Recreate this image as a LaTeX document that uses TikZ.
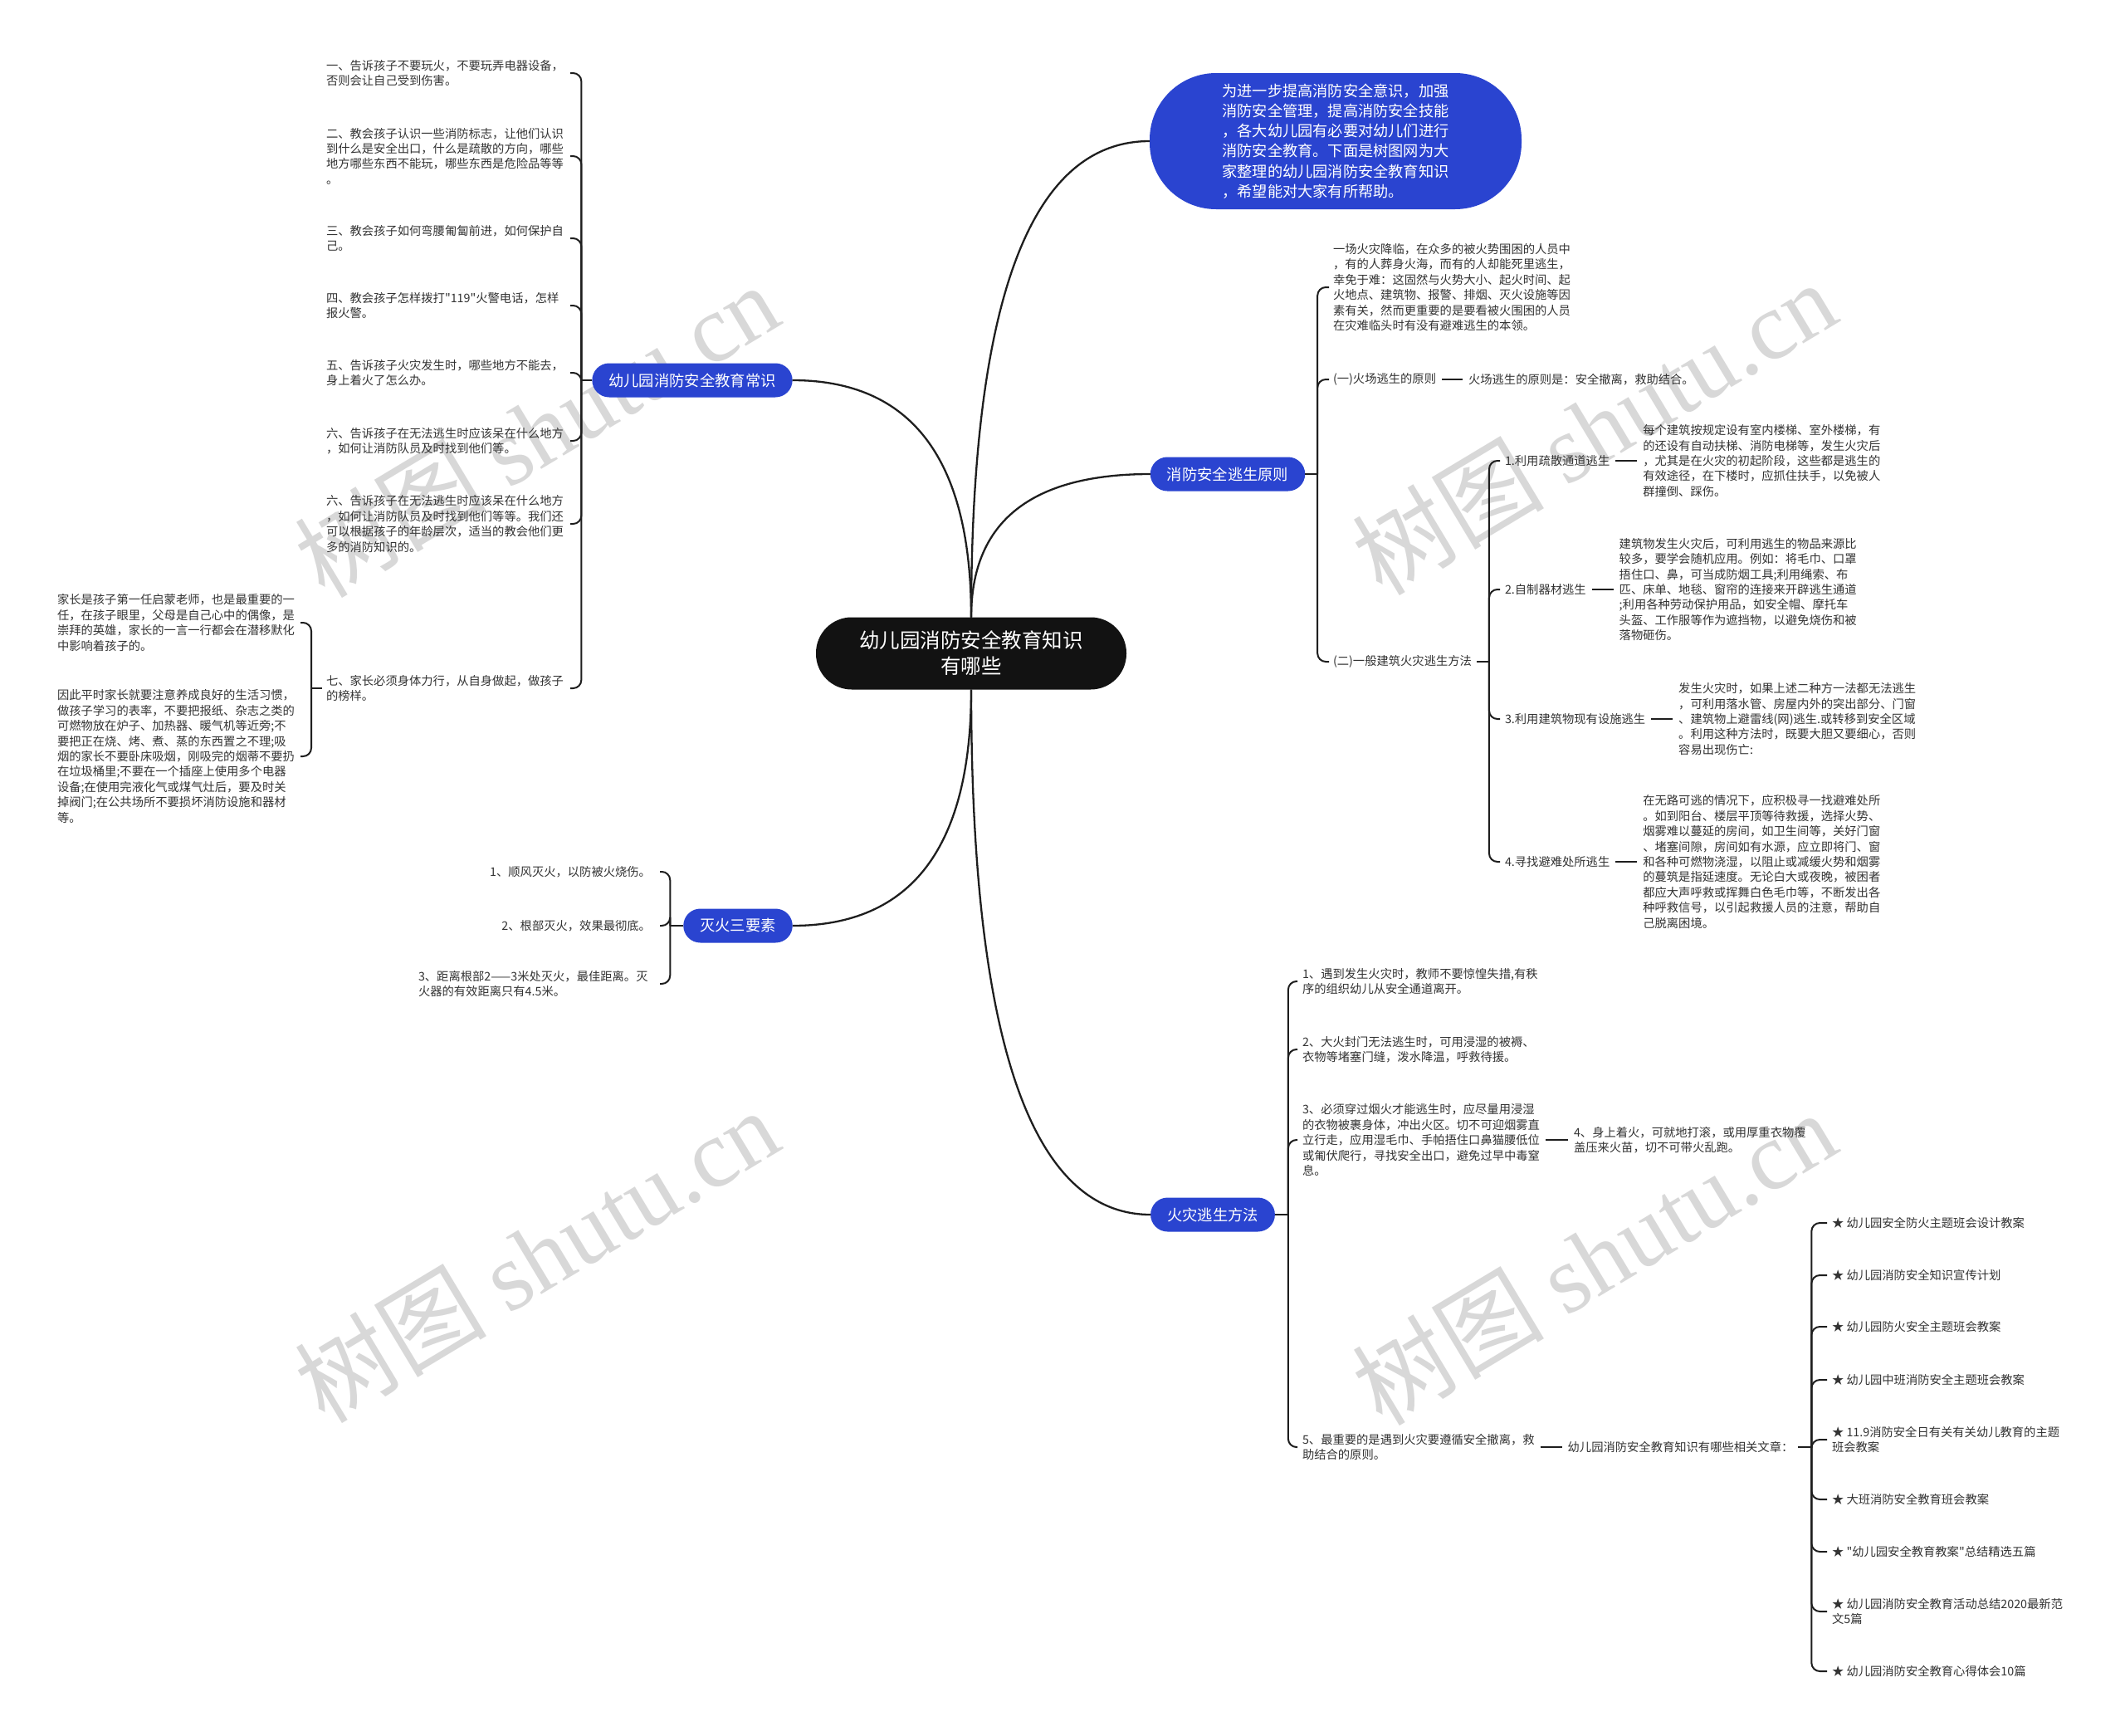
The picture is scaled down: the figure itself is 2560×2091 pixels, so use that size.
\documentclass[tikz,border=0pt]{standalone}
\usepackage{fontspec}
\newfontfamily\cjk{Noto Sans CJK SC}
\newfontfamily\wmserif{Liberation Serif}
\usetikzlibrary{calc}
\definecolor{nblue}{HTML}{2A44D0}
\definecolor{lnc}{HTML}{1E1E1E}
\definecolor{wmc}{HTML}{D8D8D8}
\definecolor{txc}{HTML}{333333}
\newcommand\smf{\cjk\fontsize{14.3pt}{18.4pt}\selectfont}
\begin{document}
\begin{tikzpicture}[x=1pt,y=-1pt,
  every node/.style={inner sep=0pt, outer sep=0pt, font=\cjk},
  txt/.style={font=\smf, align=left, text=txc},
  bnode/.style={fill=nblue, text=white, rounded corners=20.5pt, minimum height=41pt, inner xsep=20pt, font=\cjk\fontsize{18.3pt}{22pt}\selectfont},
  cnode/.style={fill={black!93}, text=white, rounded corners=43pt, minimum height=87pt, minimum width=374pt, align=center, font=\cjk\fontsize{24.5pt}{31pt}\selectfont},
  tnode/.style={fill=nblue, text=white, rounded corners=80pt, minimum height=164pt, minimum width=448pt, align=left, font=\cjk\fontsize{18.2pt}{24.3pt}\selectfont},
  mainln/.style={draw=lnc, line width=2.3pt},
  brk/.style={draw=lnc, line width=2pt, rounded corners=10pt},
  lnk/.style={draw=lnc, line width=2pt, shorten <=7pt, shorten >=7pt},
  wmk/.style={text=wmc, rotate=31, font=\cjk\fontsize{116pt}{116pt}\selectfont}
]
\fill[white] (0,0) rectangle (2560,2091);
\useasboundingbox (0,0) rectangle (2560,2091);

% watermarks
\node[wmk] (w1) at (646,518) {树图 {\wmserif shutu.cn}};
\node[wmk] (w2) at (1920,515) {树图 {\wmserif shutu.cn}};
\node[wmk] (w3) at (646,1512) {树图 {\wmserif shutu.cn}};
\node[wmk] (w4) at (1920,1515) {树图 {\wmserif shutu.cn}};

% main nodes
\node[cnode] (c) at (1170,787) {幼儿园消防安全教育知识\\有哪些};
\node[tnode] (tb) at (1609,170) {为进一步提高消防安全意识，加强\\消防安全管理，提高消防安全技能\\，各大幼儿园有必要对幼儿们进行\\消防安全教育。下面是树图网为大\\家整理的幼儿园消防安全教育知识\\，希望能对大家有所帮助。};
\node[bnode] (b1) at (834,458) {幼儿园消防安全教育常识};
\node[bnode] (b2) at (889,1115) {灭火三要素};
\node[bnode] (b3) at (1479,571) {消防安全逃生原则};
\node[bnode] (b4) at (1461,1463) {火灾逃生方法};

\coordinate (q1) at (c.north |- tb.west);
\coordinate (q2) at (c.north |- b1.east);
\coordinate (q3) at (c.north |- b3.west);
\coordinate (q4) at (c.south |- b2.east);
\coordinate (q5) at (c.south |- b4.west);
\draw[mainln] (c.north) .. controls ($(c.north)!0.667!(q1)$) and ($(tb.west)!0.667!(q1)$) .. (tb.west);
\draw[mainln] (c.north) .. controls ($(c.north)!0.667!(q2)$) and ($(b1.east)!0.667!(q2)$) .. (b1.east);
\draw[mainln] (c.north) .. controls ($(c.north)!0.667!(q3)$) and ($(b3.west)!0.667!(q3)$) .. (b3.west);
\draw[mainln] (c.south) .. controls ($(c.south)!0.667!(q4)$) and ($(b2.east)!0.667!(q4)$) .. (b2.east);
\draw[mainln] (c.south) .. controls ($(c.south)!0.667!(q5)$) and ($(b4.west)!0.667!(q5)$) .. (b4.west);

% ---- branch 1: 常识
\begin{scope}[every node/.append style={txt, anchor=west, text width=292pt}]
\node (a1) at (393,88) {一、告诉孩子不要玩火，不要玩弄电器设备，\\否则会让自己受到伤害。};
\node (a2) at (393,188) {二、教会孩子认识一些消防标志，让他们认识\\到什么是安全出口，什么是疏散的方向，哪些\\地方哪些东西不能玩，哪些东西是危险品等等\\。};
\node (a3) at (393,287) {三、教会孩子如何弯腰匍匐前进，如何保护自\\己。};
\node (a4) at (393,368) {四、教会孩子怎样拨打"119"火警电话，怎样\\报火警。};
\node (a5) at (393,449) {五、告诉孩子火灾发生时，哪些地方不能去，\\身上着火了怎么办。};
\node (a6) at (393,531) {六、告诉孩子在无法逃生时应该呆在什么地方\\，如何让消防队员及时找到他们等。};
\node (a7) at (393,631) {六、告诉孩子在无法逃生时应该呆在什么地方\\，如何让消防队员及时找到他们等等。我们还\\可以根据孩子的年龄层次，适当的教会他们更\\多的消防知识的。};
\node (a8) at (393,829) {七、家长必须身体力行，从自身做起，做孩子\\的榜样。};
\end{scope}
\coordinate (J1) at ($(b1.west)+(-13,0)$);
\draw[brk] (b1.west) -- (J1);
\foreach \n in {a1,a2,a3,a4,a5,a6,a7,a8} \draw[brk] (J1) |- ([xshift=2pt]\n.east);

\begin{scope}[every node/.append style={txt, anchor=west, text width=290pt}]
\node (p1) at (69,750) {家长是孩子第一任启蒙老师，也是最重要的一\\任，在孩子眼里，父母是自己心中的偶像，是\\崇拜的英雄，家长的一言一行都会在潜移默化\\中影响着孩子的。};
\node (p2) at (69,911) {因此平时家长就要注意养成良好的生活习惯，\\做孩子学习的表率，不要把报纸、杂志之类的\\可燃物放在炉子、加热器、暖气机等近旁;不\\要把正在烧、烤、煮、蒸的东西置之不理;吸\\烟的家长不要卧床吸烟，刚吸完的烟蒂不要扔\\在垃圾桶里;不要在一个插座上使用多个电器\\设备;在使用完液化气或煤气灶后，要及时关\\掉阀门;在公共场所不要损坏消防设施和器材\\等。};
\end{scope}
\coordinate (J2) at ($(a8.west)+(-18,0)$);
\draw[brk] ([xshift=-5pt]a8.west) -- (J2);
\draw[brk] (J2) |- ([xshift=3pt]p1.east);
\draw[brk] (J2) |- ([xshift=3pt]p2.east);

% ---- branch 2: 灭火三要素
\node[txt, anchor=east] (f1) at (784,1050) {1、顺风灭火，以防被火烧伤。};
\node[txt, anchor=east] (f2) at (784,1115) {2、根部灭火，效果最彻底。};
\node[txt, anchor=west, text width=285pt] (f3) at (504,1185) {3、距离根部2——3米处灭火，最佳距离。灭\\火器的有效距离只有4.5米。};
\coordinate (J3) at ($(b2.west)+(-16,0)$);
\draw[brk] (b2.west) -- (J3);
\draw[brk] (J3) |- ([xshift=11pt]f1.east);
\draw[brk] (J3) |- ([xshift=11pt]f2.east);
\draw[brk] (J3) |- ([xshift=6pt]f3.east);

% ---- branch 3: 消防安全逃生原则
\begin{scope}[every node/.append style={txt, anchor=west}]
\node (r1) at (1606,346) {一场火灾降临，在众多的被火势围困的人员中\\，有的人葬身火海，而有的人却能死里逃生，\\幸免于难：这固然与火势大小、起火时间、起\\火地点、建筑物、报警、排烟、灭火设施等因\\素有关，然而更重要的是要看被火围困的人员\\在灾难临头时有没有避难逃生的本领。};
\node (r2) at (1606,457) {(一)火场逃生的原则};
\node (r2a) at ([xshift=39pt]r2.east) {火场逃生的原则是：安全撤离，救助结合。};
\node (r3) at (1606,797) {(二)一般建筑火灾逃生方法};
\node (s1) at (1813,555) {1.利用疏散通道逃生};
\node (s1a) at ([xshift=40pt]s1.east) {每个建筑按规定设有室内楼梯、室外楼梯，有\\的还设有自动扶梯、消防电梯等，发生火灾后\\，尤其是在火灾的初起阶段，这些都是逃生的\\有效途径，在下楼时，应抓住扶手，以免被人\\群撞倒、踩伤。};
\node (s2) at (1813,710) {2.自制器材逃生};
\node (s2a) at ([xshift=40pt]s2.east) {建筑物发生火灾后，可利用逃生的物品来源比\\较多，要学会随机应用。例如：将毛巾、口罩\\捂住口、鼻，可当成防烟工具;利用绳索、布\\匹、床单、地毯、窗帘的连接来开辟逃生通道\\;利用各种劳动保护用品，如安全帽、摩托车\\头盔、工作服等作为遮挡物，以避免烧伤和被\\落物砸伤。};
\node (s3) at (1813,866) {3.利用建筑物现有设施逃生};
\node (s3a) at ([xshift=40pt]s3.east) {发生火灾时，如果上述二种方一法都无法逃生\\，可利用落水管、房屋内外的突出部分、门窗\\、建筑物上避雷线(网)逃生.或转移到安全区域\\。利用这种方法时，既要大胆又要细心，否则\\容易出现伤亡:};
\node (s4) at (1813,1038) {4.寻找避难处所逃生};
\node (s4a) at ([xshift=40pt]s4.east) {在无路可逃的情况下，应积极寻一找避难处所\\。如到阳台、楼层平顶等待救援，选择火势、\\烟雾难以蔓延的房间，如卫生间等，关好门窗\\、堵塞间隙，房间如有水源，应立即将门、窗\\和各种可燃物浇湿，以阻止或减缓火势和烟雾\\的蔓筑是指延速度。无论白大或夜晚，被困者\\都应大声呼救或挥舞白色毛巾等，不断发出各\\种呼救信号，以引起救援人员的注意，帮助自\\己脱离困境。};
\end{scope}
\coordinate (J4) at ($(b3.east)+(15,0)$);
\draw[brk] (b3.east) -- (J4);
\foreach \n in {r1,r2,r3} \draw[brk] (J4) |- ([xshift=-5pt]\n.west);
\draw[lnk] (r2) -- (r2a);
\coordinate (J5) at ($(r3.east)+(21,0)$);
\draw[brk] ([xshift=6pt]r3.east) -- (J5);
\foreach \n in {s1,s2,s3,s4} \draw[brk] (J5) |- ([xshift=-6pt]\n.west);
\draw[lnk] (s1) -- (s1a);
\draw[lnk] (s2) -- (s2a);
\draw[lnk] (s3) -- (s3a);
\draw[lnk] (s4) -- (s4a);

% ---- branch 4: 火灾逃生方法
\begin{scope}[every node/.append style={txt, anchor=west}]
\node (h1) at (1569,1182) {1、遇到发生火灾时，教师不要惊惶失措,有秩\\序的组织幼儿从安全通道离开。};
\node (h2) at (1569,1264) {2、大火封门无法逃生时，可用浸湿的被褥、\\衣物等堵塞门缝，泼水降温，呼救待援。};
\node (h3) at (1569,1373) {3、必须穿过烟火才能逃生时，应尽量用浸湿\\的衣物被裹身体，冲出火区。切不可迎烟雾直\\立行走，应用湿毛巾、手帕捂住口鼻猫腰低位\\或匍伏爬行，寻找安全出口，避免过早中毒窒\\息。};
\node (h3a) at ([xshift=41pt]h3.east) {4、身上着火，可就地打滚，或用厚重衣物覆\\盖压来火苗，切不可带火乱跑。};
\node (h5) at (1569,1743) {5、最重要的是遇到火灾要遵循安全撤离，救\\助结合的原则。};
\node (h5a) at ([xshift=40pt]h5.east) {幼儿园消防安全教育知识有哪些相关文章：};
\node (k1) at (2207,1473) {★ 幼儿园安全防火主题班会设计教案};
\node (k2) at (2207,1536) {★ 幼儿园消防安全知识宣传计划};
\node (k3) at (2207,1598) {★ 幼儿园防火安全主题班会教案};
\node (k4) at (2207,1662) {★ 幼儿园中班消防安全主题班会教案};
\node (k5) at (2207,1734) {★ 11.9消防安全日有关有关幼儿教育的主题\\班会教案};
\node (k6) at (2207,1806) {★ 大班消防安全教育班会教案};
\node (k7) at (2207,1869) {★ "幼儿园安全教育教案"总结精选五篇};
\node (k8) at (2207,1941) {★ 幼儿园消防安全教育活动总结2020最新范\\文5篇};
\node (k9) at (2207,2013) {★ 幼儿园消防安全教育心得体会10篇};
\end{scope}
\coordinate (J6) at ($(b4.east)+(16,0)$);
\draw[brk] (b4.east) -- (J6);
\foreach \n in {h1,h2,h3,h5} \draw[brk] (J6) |- ([xshift=-6pt]\n.west);
\draw[lnk] (h3) -- (h3a);
\draw[lnk] (h5) -- (h5a);
\coordinate (J7) at ($(h5a.east)+(22,0)$);
\draw[brk] ([xshift=6pt]h5a.east) -- (J7);
\foreach \n in {k1,k2,k3,k4,k5,k6,k7,k8,k9} \draw[brk] (J7) |- ([xshift=-6pt]\n.west);
\end{tikzpicture}
\end{document}
